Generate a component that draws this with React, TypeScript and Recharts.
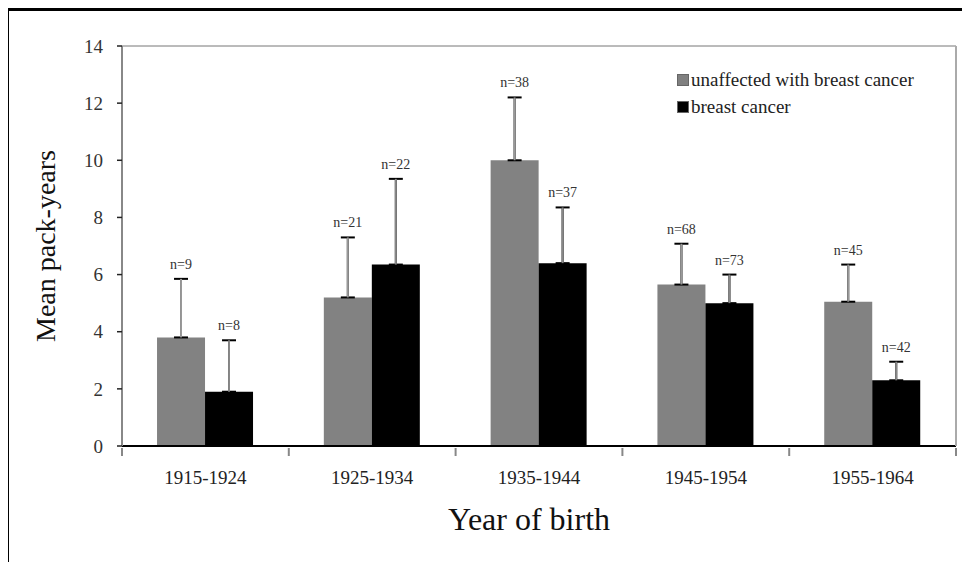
import React from "react";
import { BarChart, Bar, XAxis, YAxis, ErrorBar, LabelList, Legend, ReferenceLine, Label } from "recharts";

const categories = ["1915-1924", "1925-1934", "1935-1944", "1945-1954", "1955-1964"];
const unaffectedMean = [3.8, 5.2, 10.0, 5.65, 5.05];
const unaffectedErr = [2.05, 2.1, 2.2, 1.43, 1.3];
const unaffectedN = [9, 21, 38, 68, 45];
const cancerMean = [1.9, 6.35, 6.4, 5.0, 2.3];
const cancerErr = [1.8, 3.0, 1.95, 1.0, 0.65];
const cancerN = [8, 22, 37, 73, 42];
const yTicks = [0, 2, 4, 6, 8, 10, 12, 14];

const data = categories.map((name, i) => ({
  name,
  unaffected: unaffectedMean[i],
  unaffectedErr: [0, unaffectedErr[i]],
  unaffectedN: unaffectedN[i],
  cancer: cancerMean[i],
  cancerErr: [0, cancerErr[i]],
  cancerN: cancerN[i],
}));

const FONT = "Liberation Serif, Times New Roman, serif";
const W = 961;
const H = 551;
const margin = { top: 35, right: 13, bottom: 76, left: 53 };
const PLOT_LEFT = margin.left + 60;
const PLOT_RIGHT = W - margin.right - 1;
const HALF_BAND = (PLOT_RIGHT - PLOT_LEFT) / categories.length / 2;

// category ticks sit on the band edges, labels in the middle
function XTick(props: any) {
  const { x, y, payload, index } = props;
  return (
    <g>
      <line x1={x - HALF_BAND} x2={x - HALF_BAND} y1={y} y2={y + 8} stroke="#888" strokeWidth={2} />
      {index === categories.length - 1 && (
        <line x1={x + HALF_BAND} x2={x + HALF_BAND} y1={y} y2={y + 8} stroke="#888" strokeWidth={2} />
      )}
      <text x={x} y={y + 36} textAnchor="middle" fontFamily={FONT} fontSize={19} fill="#222">
        {payload.value}
      </text>
    </g>
  );
}

function nLabel(means: number[], errs: number[], ns: number[]) {
  return (props: any) => {
    const { x, y, width, height, index } = props;
    const pxPerUnit = height / means[index];
    const capY = y - errs[index] * pxPerUnit;
    return (
      <text x={x + width / 2} y={capY - 10} textAnchor="middle" fontFamily={FONT} fontSize={14} fill="#333">
        {"n=" + ns[index]}
      </text>
    );
  };
}

function LegendBox() {
  const row = { display: "flex", alignItems: "center", height: 27 };
  const sq = { width: 10, height: 10, marginRight: 2, display: "inline-block" };
  return (
    <div style={{ fontFamily: FONT, fontSize: 19, color: "#222", whiteSpace: "nowrap" }}>
      <div style={row}>
        <span style={{ ...sq, background: "#808080", border: "1px solid #666" }} />
        unaffected with breast cancer
      </div>
      <div style={row}>
        <span style={{ ...sq, background: "#000", border: "1px solid #666" }} />
        breast cancer
      </div>
    </div>
  );
}

export default function App() {
  return (
    <div style={{ marginLeft: -2, borderLeft: "3px solid #000", borderTop: "3px solid #000", width: W, height: H, fontFamily: FONT }}>
      <BarChart width={W} height={H} data={data} margin={margin} barCategoryGap="21%" barGap={0}>
        <XAxis
          dataKey="name"
          height={40}
          tick={<XTick />}
          tickLine={false}
          tickSize={0}
          axisLine={{ stroke: "#000", strokeWidth: 2 }}
          interval={0}
        >
          <Label
            content={() => (
              <text x={520} y={519} textAnchor="middle" fontFamily={FONT} fontSize={32} fill="#111">
                Year of birth
              </text>
            )}
          />
        </XAxis>
        <YAxis
          width={60}
          domain={[0, 14]}
          ticks={yTicks}
          interval={0}
          tickSize={5}
          tickMargin={14}
          tick={{ fontFamily: FONT, fontSize: 19, fill: "#333" }}
          tickLine={{ stroke: "#222", strokeWidth: 1.5 }}
          axisLine={{ stroke: "#888", strokeWidth: 2 }}
        >
          <Label
            content={() => (
              <text
                x={36}
                y={235}
                textAnchor="middle"
                dominantBaseline="central"
                transform="rotate(-90, 36, 235)"
                fontFamily={FONT}
                fontSize={28}
                fill="#111"
              >
                Mean pack-years
              </text>
            )}
          />
        </YAxis>
        <YAxis
          yAxisId="right"
          orientation="right"
          width={1}
          domain={[0, 14]}
          tick={false}
          tickLine={false}
          axisLine={{ stroke: "#aaa", strokeWidth: 2 }}
        />
        <ReferenceLine y={14} stroke="#777" strokeWidth={1} />
        <Legend
          layout="vertical"
          align="center"
          verticalAlign="middle"
          content={<LegendBox />}
          wrapperStyle={{ top: 55, left: 668, width: 290 }}
        />
        <Bar dataKey="unaffected" fill="#828282" isAnimationActive={false}>
          <ErrorBar dataKey="unaffectedErr" width={7} stroke="#000" strokeWidth={2} />
          <ErrorBar dataKey="unaffectedErr" width={0} stroke="#999" strokeWidth={2} />
          <LabelList dataKey="unaffectedN" content={nLabel(unaffectedMean, unaffectedErr, unaffectedN)} />
        </Bar>
        <Bar dataKey="cancer" fill="#000" isAnimationActive={false}>
          <ErrorBar dataKey="cancerErr" width={7} stroke="#000" strokeWidth={2} />
          <ErrorBar dataKey="cancerErr" width={0} stroke="#888" strokeWidth={2} />
          <LabelList dataKey="cancerN" content={nLabel(cancerMean, cancerErr, cancerN)} />
        </Bar>
      </BarChart>
    </div>
  );
}
